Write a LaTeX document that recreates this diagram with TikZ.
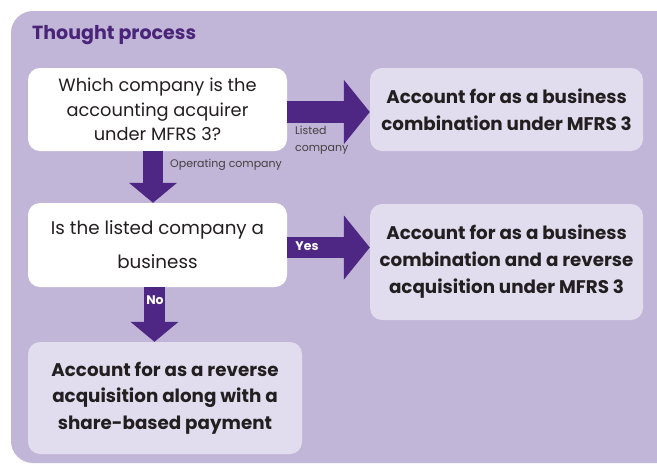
\documentclass[tikz,border=0pt]{standalone}
\usepackage{fontspec}
\setmainfont{Poppins}
\usetikzlibrary{arrows.meta}
\definecolor{panel}{HTML}{C1B6D7}
\definecolor{lightbox}{HTML}{E2DDEE}
\definecolor{arrowpurple}{HTML}{4E2683}
\definecolor{titlepurple}{HTML}{4A2479}
\definecolor{textdark}{HTML}{231F20}
\begin{document}
\begin{tikzpicture}[x=1pt,y=-1pt,
  qbox/.style={fill=white,rounded corners=12pt,inner sep=0pt,text=textdark,align=center},
  abox/.style={fill=lightbox,rounded corners=12pt,inner sep=0pt,text=textdark,align=center},
  harrow/.style={draw=arrowpurple,line width=21.5pt,-{Triangle[width=63pt,length=26pt,fill=arrowpurple]}},
  varrow/.style={draw=arrowpurple,line width=20.5pt,-{Triangle[width=47pt,length=20pt,fill=arrowpurple]}},
  smalllbl/.style={text=textdark!85,font=\fontsize{11}{17}\selectfont,inner sep=0pt,align=left},
  whitelbl/.style={text=white,font=\bfseries\fontsize{12.5}{14}\selectfont,inner sep=0pt}
]
\useasboundingbox (0,0) rectangle (657,464);
\fill[white] (0,0) rectangle (657,464);
\fill[panel,rounded corners=22pt] (11,11) rectangle (700,463);
\node[anchor=west,text=titlepurple,font=\bfseries\fontsize{19}{22}\selectfont,inner sep=0pt] (title) at (32,35) {Thought process};

\node[qbox,minimum width=259pt,minimum height=83pt,font=\fontsize{17.8}{24.5}\selectfont] (q1) at (157.5,109.5)
  {Which company is the\\accounting acquirer\\under MFRS 3?};
\node[abox,minimum width=273pt,minimum height=83pt,font=\bfseries\fontsize{18.3}{27}\selectfont] (r1) at (506.5,109.5)
  {Account for as a business\\combination under MFRS 3};
\node[qbox,minimum width=259pt,minimum height=84pt,font=\fontsize{18.3}{34}\selectfont] (q2) at (157.5,245)
  {Is the listed company a\\business};
\node[abox,minimum width=273pt,minimum height=116pt,font=\bfseries\fontsize{18.3}{27}\selectfont] (r2) at (506.5,262)
  {Account for as a business\\combination and a reverse\\acquisition under MFRS 3};
\node[abox,minimum width=274pt,minimum height=112pt,font=\bfseries\fontsize{18.3}{26.5}\selectfont] (r3) at (165,398)
  {Account for as a reverse\\acquisition along with a\\share-based payment};

\draw[harrow] ([yshift=-2.5pt]q1.east) -- ([yshift=-2.5pt]r1.west);
\draw[harrow] ([yshift=-2.5pt]q2.east) -- ([yshift=-2.5pt]r2.west |- q2.east);
\draw[varrow] ([xshift=-4.5pt]q1.south) -- ([xshift=-4.5pt]q2.north);
\draw[varrow] ([xshift=-3pt]q2.south) -- ([xshift=-3pt]q2.south |- r3.north);

\node[smalllbl,anchor=north west] (lbl1) at (295,126) {Listed\\company};
\node[smalllbl,anchor=west] (lbl2) at (170,165) {Operating company};
\node[whitelbl] (yes) at (307,246) {Yes};
\node[whitelbl] (no) at (155,300) {No};
\end{tikzpicture}
\end{document}
